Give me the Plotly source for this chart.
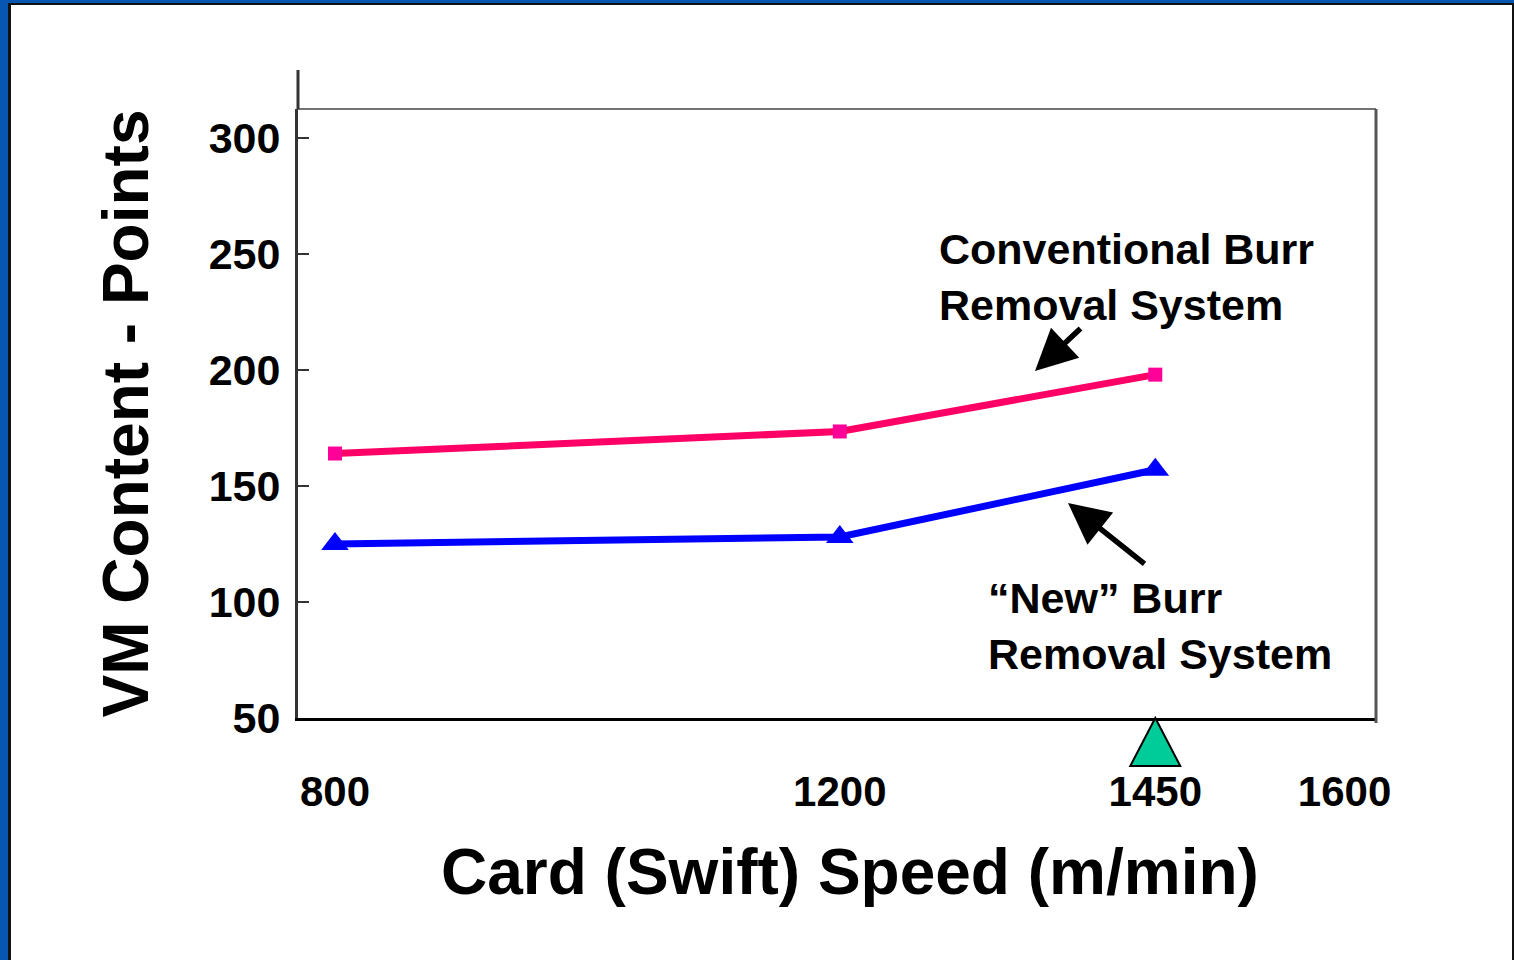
import plotly.graph_objects as go

# ---- data ----
speeds = [800, 1200, 1450]
conventional = [164, 173.5, 198]
new_system = [125, 128, 157]
x_ticks = [800, 1200, 1450, 1600]
y_ticks = [50, 100, 150, 200, 250, 300]
highlight_speed = 1450

FONT = "Liberation Sans, Arial, sans-serif"
PINK_LINE = "#FF0066"
PINK_MARK = "#FF0099"
BLUE = "#0000FF"

W, H = 1514, 960
L, R, T, B = 298, 1376, 109, 718
pw, ph = R - L, B - T

def px(xp):
    return (xp - L) / pw

def py(yp):
    return 1 - (yp - T) / ph

fig = go.Figure()

fig.add_trace(go.Scatter(x=speeds, y=conventional, mode="lines",
                         line=dict(color=PINK_LINE, width=7), showlegend=False,
                         hoverinfo="skip"))
fig.add_trace(go.Scatter(x=speeds, y=conventional, mode="markers",
                         marker=dict(symbol="square", size=14, color=PINK_MARK),
                         showlegend=False, name="Conventional"))
fig.add_trace(go.Scatter(x=speeds, y=new_system, mode="lines",
                         line=dict(color=BLUE, width=7), showlegend=False,
                         hoverinfo="skip"))
fig.add_trace(go.Scatter(x=speeds, y=new_system, mode="markers",
                         marker=dict(symbol="triangle-up", size=24, color=BLUE),
                         showlegend=False, name="New"))

shapes = [
    # black edge line and white panel over the blue background
    dict(type="rect", xref="paper", yref="paper", x0=px(8), x1=px(1520),
         y0=py(3), y1=py(1000), fillcolor="#111111", line=dict(width=0), layer="below"),
    dict(type="rect", xref="paper", yref="paper", x0=px(11), x1=px(1512),
         y0=py(5), y1=py(1000), fillcolor="white", line=dict(width=0), layer="below"),
    # top frame line
    dict(type="line", xref="paper", yref="paper", x0=0, x1=1, y0=1, y1=1,
         line=dict(color="#444444", width=1.5)),
    # right frame line
    dict(type="line", xref="paper", yref="paper", x0=1, x1=1, y0=1, y1=py(B + 5),
         line=dict(color="#555555", width=3)),
    # left axis extension above the frame
    dict(type="line", xref="paper", yref="paper", x0=0, x1=0, y0=1, y1=py(70),
         line=dict(color="#333333", width=3)),
    # green triangle marking highlight speed, hanging below the x axis
    dict(type="path", xref="x", yref="paper", xsizemode="pixel", ysizemode="pixel",
         xanchor=highlight_speed, yanchor=0,
         path="M0,0 L-25,-48 L25,-48 Z", fillcolor="#00CC99",
         line=dict(color="black", width=2)),
]

annotations = [
    dict(text="Conventional Burr<br>Removal System", xref="paper", yref="paper",
         x=px(937), y=py(277), xanchor="left", yanchor="middle", align="left",
         showarrow=False, font=dict(family=FONT, size=43, color="black", weight=700)),
    dict(text="\u201cNew\u201d Burr<br>Removal System", xref="paper", yref="paper",
         x=px(986), y=py(626), xanchor="left", yanchor="middle", align="left",
         showarrow=False, font=dict(family=FONT, size=43, color="black", weight=700)),
    dict(text="", xref="paper", yref="paper", x=px(1035), y=py(371),
         ax=47, ay=-44, showarrow=True, arrowhead=2, arrowsize=1.5, arrowwidth=5.5,
         arrowcolor="black", standoff=0),
    dict(text="", xref="paper", yref="paper", x=px(1068), y=py(503),
         ax=78, ay=62, showarrow=True, arrowhead=2, arrowsize=1.5, arrowwidth=5.5,
         arrowcolor="black", standoff=0),
    # x axis title
    dict(text="Card (Swift) Speed (m/min)", xref="paper", yref="paper",
         x=px(850), y=py(872), xanchor="center", yanchor="middle", showarrow=False,
         font=dict(family=FONT, size=64, color="black", weight=700)),
]

fig.update_layout(
    width=W, height=H,
    margin=dict(l=L, r=W - R, t=T, b=H - B, autoexpand=False),
    paper_bgcolor="#0757B2",
    plot_bgcolor="white",
    shapes=shapes,
    annotations=annotations,
    font=dict(family=FONT, color="black"),
    xaxis=dict(
        range=[770.7, 1624.9], tickvals=x_ticks, ticktext=[str(v) for v in x_ticks],
        showgrid=False, zeroline=False, showline=True, linecolor="black", linewidth=2.5,
        ticks="", tickfont=dict(family=FONT, size=42, color="black", weight=700),
        ticklabelstandoff=35,
    ),
    yaxis=dict(
        range=[50, 312.5], tickvals=y_ticks, ticktext=[str(v) for v in y_ticks],
        showgrid=False, zeroline=False, showline=True, linecolor="#333333", linewidth=3,
        ticks="inside", ticklen=11, tickwidth=1.5, tickcolor="#333333",
        tickfont=dict(family=FONT, size=43, color="black", weight=700),
        ticklabelstandoff=6,
        title=dict(text="VM Content - Points", standoff=40,
                   font=dict(family=FONT, size=64, color="black", weight=700)),
    ),
)

fig.write_html(
    "out.html",
    config={"displayModeBar": False},
    post_script="document.body.style.margin='0';document.body.style.overflow='hidden';",
)
